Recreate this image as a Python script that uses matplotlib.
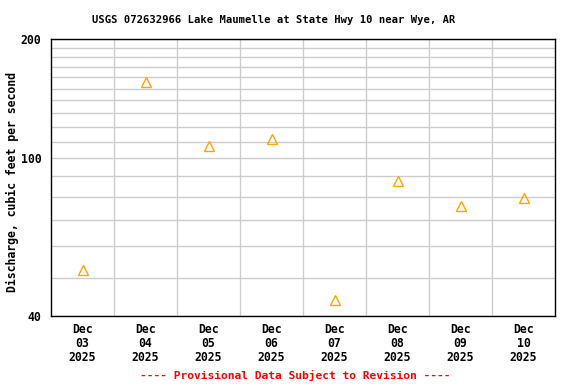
import numpy as np
import matplotlib
matplotlib.use('Agg')
import matplotlib.pyplot as plt
import matplotlib.dates as mdates
import matplotlib.ticker as mtick
from datetime import datetime, timedelta

# daily mean discharge, plotted at noon of each day
days = ['2025-12-03', '2025-12-04', '2025-12-05', '2025-12-06',
        '2025-12-07', '2025-12-08', '2025-12-09', '2025-12-10']
discharge = [52.2, 155.5, 107.5, 112.0, 44.0, 87.5, 76.0, 79.2]
ytick_vals = [40, 100, 200]
grid_vals = [50, 60, 70, 80, 90, 110, 120, 130, 140, 150, 160, 170, 180, 190]

dates = [datetime.strptime(d, '%Y-%m-%d') for d in days]
noons = [d + timedelta(hours=12) for d in dates]

plt.rcParams['font.family'] = 'DejaVu Sans Mono'
plt.rcParams['font.weight'] = 'bold'

fig = plt.figure(figsize=(5.76, 3.84), dpi=100)
ax = fig.add_axes([51/576, 1-316/384, 504/576, 277/384])

ax.plot(noons, discharge, linestyle='none', marker='^', markersize=7,
        markerfacecolor='none', markeredgecolor='#FFA500', markeredgewidth=1, zorder=3)

ax.set_yscale('log')
ax.set_ylim(40, 200)
ax.set_xlim(dates[0], dates[-1] + timedelta(days=1))

ax.yaxis.set_major_locator(mtick.FixedLocator(ytick_vals))
ax.yaxis.set_major_formatter(mtick.FixedFormatter([str(v) for v in ytick_vals]))
ax.yaxis.set_minor_locator(mtick.FixedLocator(grid_vals))
ax.yaxis.set_minor_formatter(mtick.NullFormatter())

ax.xaxis.set_major_locator(mtick.FixedLocator(mdates.date2num(noons)))
ax.xaxis.set_major_formatter(mtick.FixedFormatter(
    [d.strftime('%b\n%d\n%Y') for d in dates]))
ax.xaxis.set_minor_locator(mtick.FixedLocator(mdates.date2num(dates[1:])))

ax.grid(which='both', axis='y', color='#cccccc', linewidth=1)
ax.grid(which='minor', axis='x', color='#cccccc', linewidth=1)
ax.tick_params(which='both', length=0)
ax.tick_params(axis='x', labelsize=8.3, pad=5)
ax.tick_params(axis='y', labelsize=8.3, pad=7)
for lbl in ax.get_xticklabels():
    lbl.set_fontweight('bold')
    lbl.set_linespacing(1.12)
for lbl in ax.get_yticklabels():
    lbl.set_fontweight('bold')
for s in ax.spines.values():
    s.set_linewidth(1)
    s.set_color('black')
ax.set_axisbelow(True)

fig.text(12/576, 1-182/384, 'Discharge, cubic feet per second', rotation=90,
         ha='center', va='center', fontsize=8.3, fontweight='bold')
fig.text(274/576, 1-20/384, 'USGS 072632966 Lake Maumelle at State Hwy 10 near Wye, AR',
         ha='center', va='center', fontsize=7.6, fontweight='bold')
fig.text(295/576, 1-375/384, '---- Provisional Data Subject to Revision ----',
         ha='center', va='center', fontsize=8.1, fontweight='bold', color='red')

plt.savefig('out.png', dpi=100)
